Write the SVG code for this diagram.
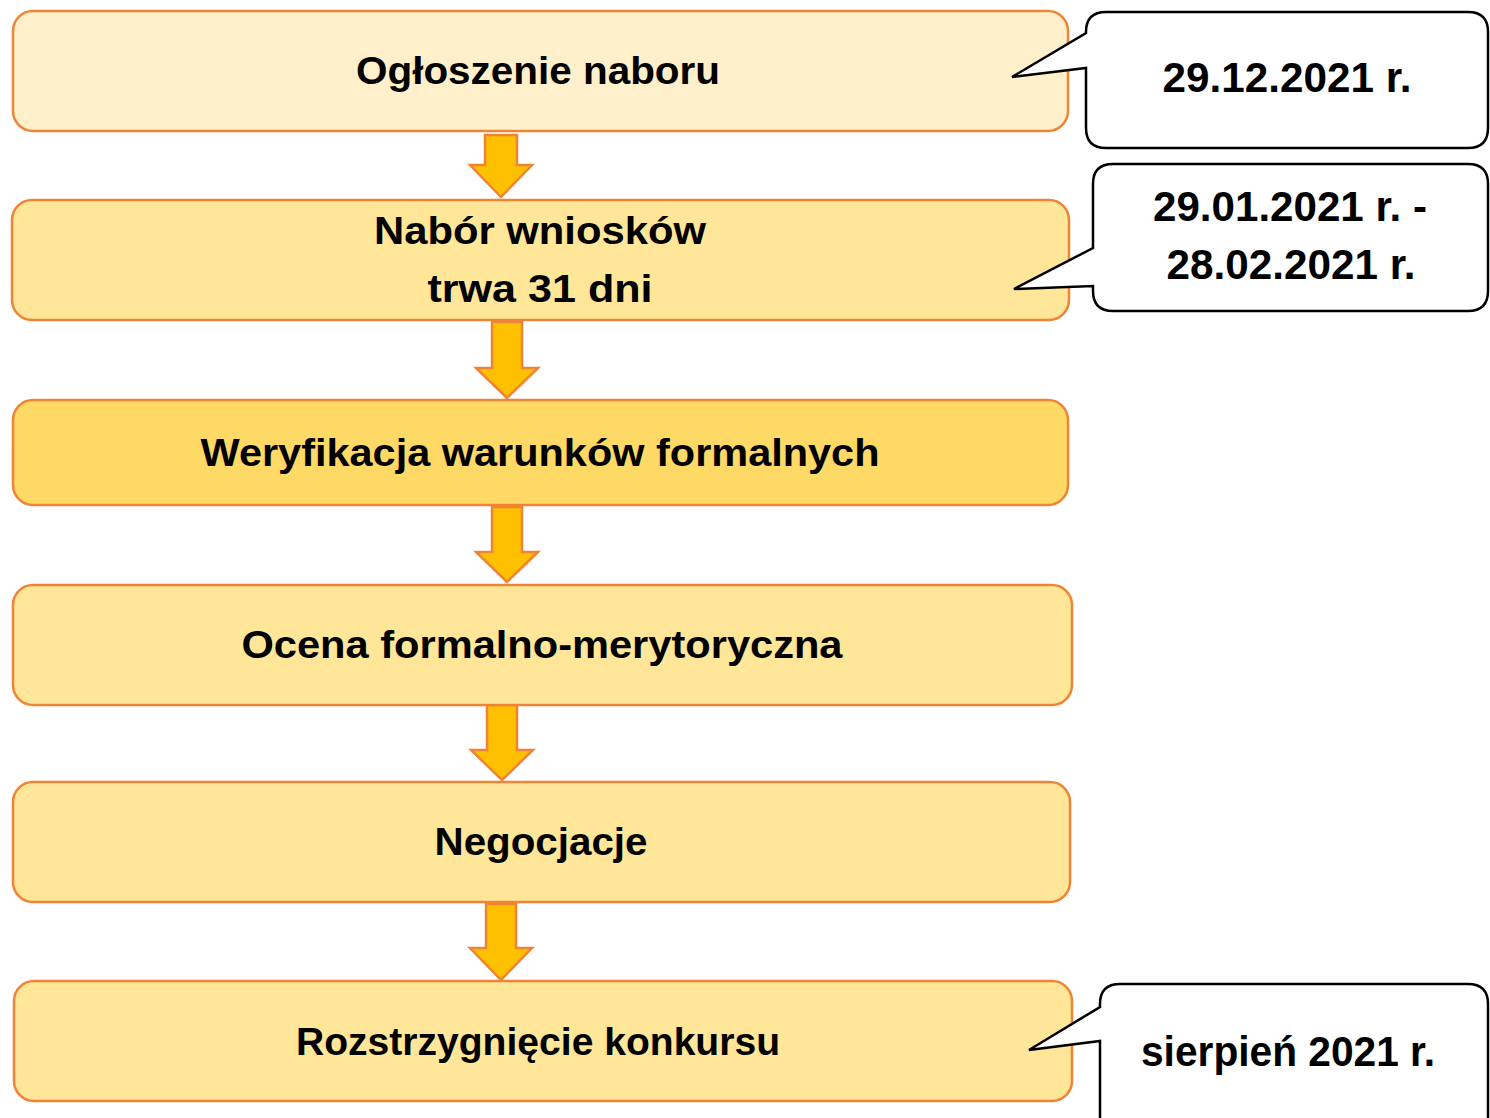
<svg xmlns="http://www.w3.org/2000/svg" width="1490" height="1118" viewBox="0 0 1490 1118">
<style>
.box{stroke:#F08436;stroke-width:2.5}
.arr{fill:#FFC000;stroke:#F08436;stroke-width:2.5;stroke-linejoin:miter}
.call{fill:#FFFFFF;stroke:#000000;stroke-width:2.5;stroke-linejoin:miter}
text{font-family:"Liberation Sans",Arial,sans-serif;font-weight:bold;fill:#000000;text-anchor:middle}
.t{font-size:38px}
.c{font-size:42px}
</style>
<rect width="1490" height="1118" fill="#FFFFFF"/>
<g id="connectors">
<polygon class="arr" points="485,135 517,135 517,165 532,165 501,197 470,165 485,165"/>
<polygon class="arr" points="492,322 522,322 522,368 538,368 507,398 476,368 492,368"/>
<polygon class="arr" points="492,507 522,507 522,552 538,552 507,582 476,552 492,552"/>
<polygon class="arr" points="487,705 517,705 517,750 533,750 502,780 471,750 487,750"/>
<polygon class="arr" points="486,904 516,904 516,948 532,948 501,980 470,948 486,948"/>
</g>
<g id="n1"><rect class="box" x="13" y="11" width="1055" height="120" rx="20" fill="#FFF0CB"/><text class="t" x="538" y="84" textLength="364" lengthAdjust="spacingAndGlyphs">Ogłoszenie naboru</text></g>
<g id="n2"><rect class="box" x="12" y="200" width="1057" height="120" rx="20" fill="#FFE699"/><text class="t" x="540" y="244" textLength="332" lengthAdjust="spacingAndGlyphs">Nabór wniosków</text><text class="t" x="540" y="302" textLength="225" lengthAdjust="spacingAndGlyphs">trwa 31 dni</text></g>
<g id="n3"><rect class="box" x="13" y="400" width="1055" height="105" rx="20" fill="#FFD966"/><text class="t" x="540" y="466" textLength="679" lengthAdjust="spacingAndGlyphs">Weryfikacja warunków formalnych</text></g>
<g id="n4"><rect class="box" x="13" y="585" width="1059" height="120" rx="20" fill="#FFE699"/><text class="t" x="542" y="658" textLength="601" lengthAdjust="spacingAndGlyphs">Ocena formalno-merytoryczna</text></g>
<g id="n5"><rect class="box" x="13" y="782" width="1057" height="120" rx="20" fill="#FFE699"/><text class="t" x="541" y="855" textLength="213" lengthAdjust="spacingAndGlyphs">Negocjacje</text></g>
<g id="n6"><rect class="box" x="14" y="981" width="1058" height="120" rx="20" fill="#FFE699"/><text class="t" x="538" y="1055" textLength="484" lengthAdjust="spacingAndGlyphs">Rozstrzygnięcie konkursu</text></g>
<g id="c1"><path class="call" d="M1106,12 H1468 Q1488,12 1488,32 V128 Q1488,148 1468,148 H1106 Q1086,148 1086,128 V68 L1012,77 L1086,33 V32 Q1086,12 1106,12 Z"/><text class="c" x="1287" y="92" textLength="249" lengthAdjust="spacingAndGlyphs">29.12.2021 r.</text></g>
<g id="c2"><path class="call" d="M1113,164 H1468 Q1488,164 1488,184 V291 Q1488,311 1468,311 H1113 Q1093,311 1093,291 V286 L1014,289 L1093,248 V184 Q1093,164 1113,164 Z"/><text class="c" x="1290" y="221" textLength="274" lengthAdjust="spacingAndGlyphs">29.01.2021 r. -</text><text class="c" x="1291" y="279" textLength="249" lengthAdjust="spacingAndGlyphs">28.02.2021 r.</text></g>
<g id="c3"><path class="call" d="M1120,984 H1468 Q1488,984 1488,1004 V1130 H1100 V1041 L1029,1050 L1100,1007 V1004 Q1100,984 1120,984 Z"/><text class="c" x="1288" y="1066" textLength="294" lengthAdjust="spacingAndGlyphs">sierpień 2021 r.</text></g>
</svg>
